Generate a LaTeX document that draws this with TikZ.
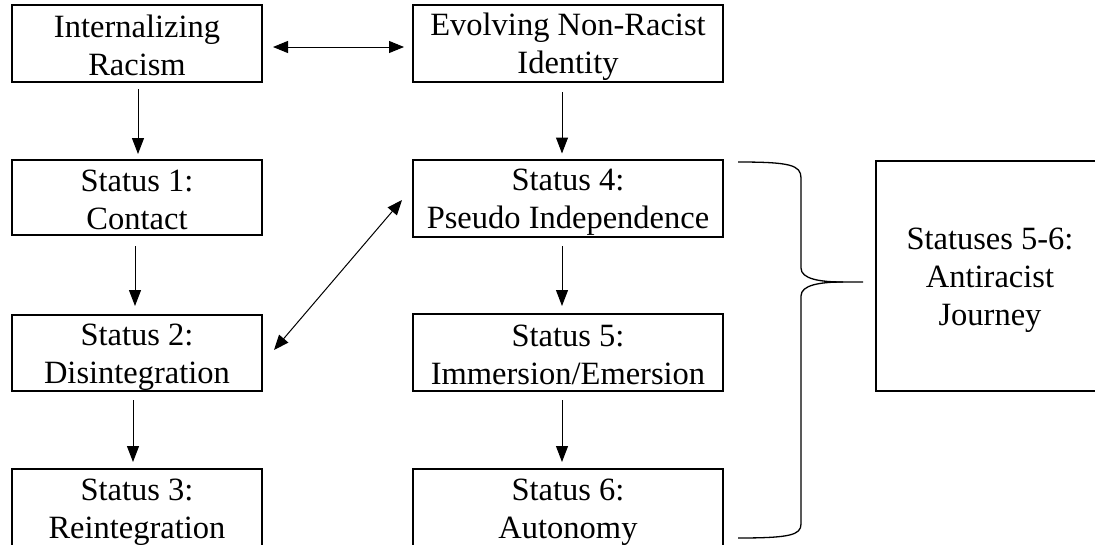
\documentclass[tikz,border=0pt]{standalone}
\usepackage{fontspec}
\setmainfont{Liberation Serif}
\usetikzlibrary{arrows.meta,calc}
\newcommand\toprl{\rule{0pt}{30pt}}
\newcommand\botrl{\rule[-5pt]{0pt}{5pt}}
\begin{document}
\begin{tikzpicture}[x=1pt,y=-1pt,
  box/.style={draw,line width=2pt,inner sep=0pt,align=center,
    font=\fontsize{32.5}{38}\selectfont},
  arr/.style={line width=1pt,-{Triangle[length=16pt,width=12pt]}},
  darr/.style={line width=1pt,{Triangle[length=15pt,width=12pt]}-{Triangle[length=15pt,width=12pt]}},
  bracestyle/.style={line width=1.3pt}]
\useasboundingbox (0,0) rectangle (1095,544);
\clip (0,0) rectangle (1095,544);
\fill[white] (0,0) rectangle (1095,544);

\node[box,minimum width=250pt,minimum height=77pt] (ir) at (137,43.5) {\toprl Internalizing\\Racism\botrl};
\node[box,minimum width=310pt,minimum height=77pt] (en) at (568,43.5) {\toprl Evolving Non-Racist\\Identity\botrl};
\node[box,minimum width=250pt,minimum height=75pt] (s1) at (137,197.5) {\toprl Status 1:\\Contact\botrl};
\node[box,minimum width=310pt,minimum height=77pt] (s4) at (568,198) {\toprl Status 4:\\Pseudo Independence\botrl};
\node[box,minimum width=250pt,minimum height=76pt] (s2) at (137,353) {\toprl Status 2:\\Disintegration\botrl};
\node[box,minimum width=310pt,minimum height=77pt] (s5) at (568,352.5) {\toprl Status 5:\\Immersion/Emersion\botrl};
\node[box,minimum width=250pt,minimum height=77pt] (s3) at (137,507.5) {\toprl Status 3:\\Reintegration\botrl};
\node[box,minimum width=310pt,minimum height=77pt] (s6) at (568,507.5) {\toprl Status 6:\\Autonomy\botrl};
\node[box,minimum width=228pt,minimum height=230pt] (st) at (990,276) {\toprl Statuses 5-6:\\Antiracist\\Journey\botrl};

\draw[arr] ($(ir.south)+(1,6)$) -- ($(s1.north)+(1,-5)$);
\draw[arr] ($(en.south)+(-6,9)$) -- ($(s4.north)+(-6,-5)$);
\draw[arr] ($(s1.south)+(-2,10)$) -- ($(s2.north)+(-2,-8)$);
\draw[arr] ($(s2.south)+(-4,8)$) -- ($(s3.north)+(-4,-6)$);
\draw[arr] ($(s4.south)+(-6,8.5)$) -- ($(s5.north)+(-6,-7)$);
\draw[arr] ($(s5.south)+(-6,8)$) -- ($(s6.north)+(-6,-6)$);
\draw[darr] ($(ir.east)+(10,3.5)$) -- ($(en.west)+(-8,3.5)$);
\draw[darr] ($(s2.east)+(11,-3)$) -- ($(s4.west)+(-10,2)$);

\draw[bracestyle] (738,162) .. controls (790,162) and (801,165) .. (801,178)
  -- (801,268) .. controls (801,279) and (820,282) .. (843,282) -- (863,282);
\draw[bracestyle] (843,282) .. controls (820,282) and (801,285) .. (801,296)
  -- (801,524) .. controls (801,535) and (790,538) .. (738,538);
\end{tikzpicture}
\end{document}
